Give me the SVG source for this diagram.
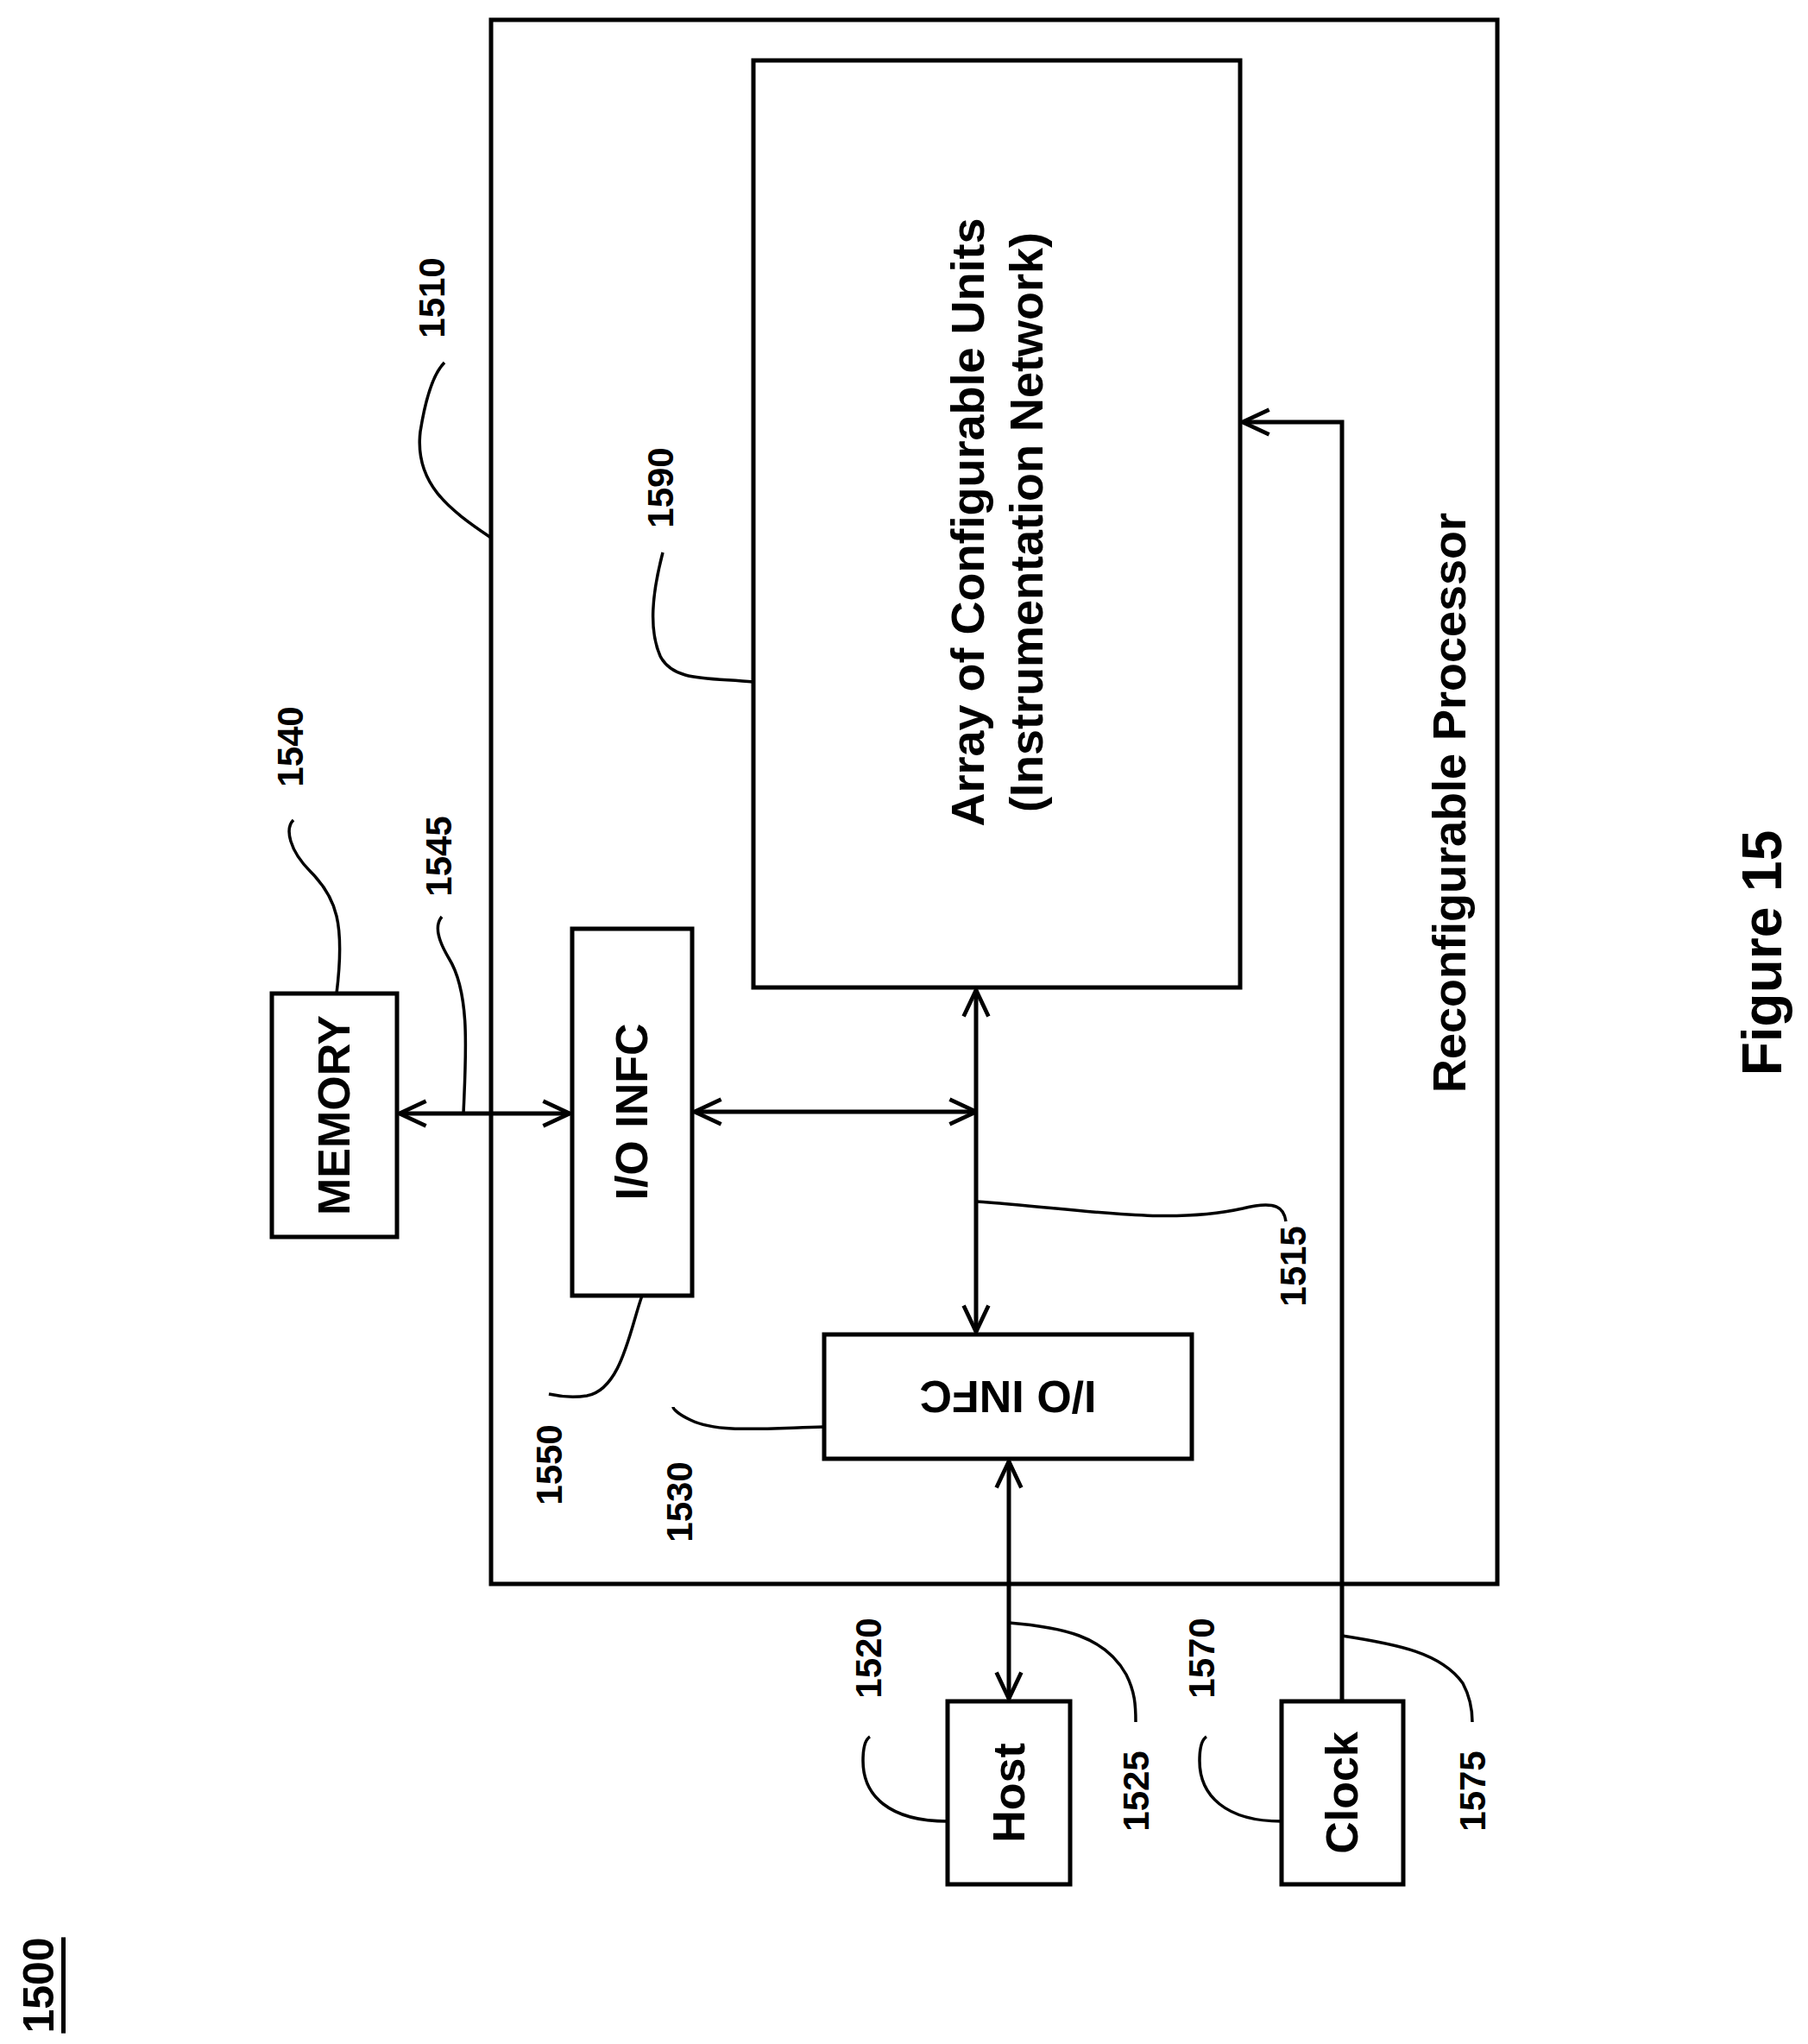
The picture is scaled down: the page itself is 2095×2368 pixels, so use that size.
<svg xmlns="http://www.w3.org/2000/svg" width="2095" height="2368" viewBox="0 0 2095 2368">
<style>
.b{fill:#fff;stroke:#000;stroke-width:5}
.c{fill:none;stroke:#000;stroke-width:5}
.l{fill:none;stroke:#000;stroke-width:3.5}
.a{marker-start:url(#ar);marker-end:url(#ar)}
text{font-family:"Liberation Sans",Arial,sans-serif;fill:#000;text-anchor:middle;dominant-baseline:central;font-weight:bold}
.n{font-size:42px}
.bt{font-size:52px}
.t{font-size:54px}
</style>
<defs>
<marker id="ar" viewBox="0 0 20 20" refX="19" refY="10" markerWidth="36" markerHeight="36" markerUnits="userSpaceOnUse" orient="auto-start-reverse">
<path d="M2,2 L19,10 L2,18" fill="none" stroke="#000" stroke-width="2.6"/>
</marker>
</defs>
<g id="proc"><rect class="b" x="569" y="23" width="1166" height="1812"/>
<text class="t" transform="translate(1679,930) rotate(-90)">Reconfigurable Processor</text></g>
<g id="array"><rect class="b" x="873" y="70" width="564" height="1074"/>
<text class="t" transform="translate(1121,605) rotate(-90)">Array of Configurable Units</text>
<text class="t" transform="translate(1189,605) rotate(-90)">(Instrumentation Network)</text></g>
<g id="io1550"><rect class="b" x="663" y="1076" width="139" height="425"/>
<text class="bt" transform="translate(732,1288) rotate(-90)">I/O INFC</text></g>
<g id="io1530"><rect class="b" x="955" y="1546" width="426" height="144"/>
<text class="bt" transform="translate(1168,1618) rotate(180)">I/O INFC</text></g>
<g id="memory"><rect class="b" x="315" y="1151" width="145" height="282"/>
<text class="bt" transform="translate(387,1292) rotate(-90)">MEMORY</text></g>
<g id="host"><rect class="b" x="1098" y="1971" width="142" height="212"/>
<text class="bt" transform="translate(1169,2077) rotate(-90)">Host</text></g>
<g id="clock"><rect class="b" x="1485" y="1971" width="141" height="212"/>
<text class="bt" transform="translate(1555,2077) rotate(-90)">Clock</text></g>
<g id="connectors">
<line class="c a" x1="1131" y1="1147" x2="1131" y2="1543"/>
<line class="c a" x1="805" y1="1288" x2="1131" y2="1288"/>
<line class="c a" x1="463" y1="1290" x2="660" y2="1290"/>
<line class="c a" x1="1169" y1="1693" x2="1169" y2="1968"/>
<path class="c" d="M1555,1971 V489 H1440" marker-end="url(#ar)"/>
</g>
<g id="leaders">
<path class="l" d="M569,623 C520,590 480,560 487,500 C495,450 505,430 515,420"/>
<path class="l" d="M390,1151 C400,1070 390,1040 360,1010 C335,985 330,960 340,950"/>
<path class="l" d="M537,1290 C540,1220 545,1150 520,1110 C505,1085 505,1070 512,1062"/>
<path class="l" d="M873,790 C820,785 780,790 765,760 C752,730 755,690 768,640"/>
<path class="l" d="M744,1501 C730,1540 720,1610 680,1617 C660,1620 645,1617 636,1615"/>
<path class="l" d="M955,1653 C880,1655 830,1660 800,1645 C785,1638 780,1632 780,1630"/>
<path class="l" d="M1131,1392 C1250,1400 1350,1420 1440,1400 C1480,1390 1488,1400 1490,1415"/>
<path class="l" d="M1098,2110 C1030,2110 1000,2080 1000,2040 C1000,2025 1003,2015 1008,2012"/>
<path class="l" d="M1169,1880 C1230,1885 1280,1895 1305,1940 C1315,1960 1316,1975 1316,1995"/>
<path class="l" d="M1485,2110 C1420,2110 1390,2080 1390,2040 C1390,2025 1393,2015 1398,2012"/>
<path class="l" d="M1555,1895 C1620,1905 1670,1915 1695,1950 C1703,1965 1706,1978 1706,1995"/>
</g>
<g id="labels">
<text class="n" transform="translate(500,345) rotate(-90)">1510</text>
<text class="n" transform="translate(336,865) rotate(-90)">1540</text>
<text class="n" transform="translate(508,992) rotate(-90)">1545</text>
<text class="n" transform="translate(765,565) rotate(-90)">1590</text>
<text class="n" transform="translate(636,1697) rotate(-90)">1550</text>
<text class="n" transform="translate(787,1740) rotate(-90)">1530</text>
<text class="n" transform="translate(1498,1467) rotate(-90)">1515</text>
<text class="n" transform="translate(1006,1921) rotate(-90)">1520</text>
<text class="n" transform="translate(1316,2075) rotate(-90)">1525</text>
<text class="n" transform="translate(1392,1921) rotate(-90)">1570</text>
<text class="n" transform="translate(1706,2075) rotate(-90)">1575</text>
<text font-size="64" transform="translate(2042,1104) rotate(-90)">Figure 15</text>
<text font-size="50" text-decoration="underline" transform="translate(45,2300) rotate(-90)">1500</text>
</g>
</svg>
